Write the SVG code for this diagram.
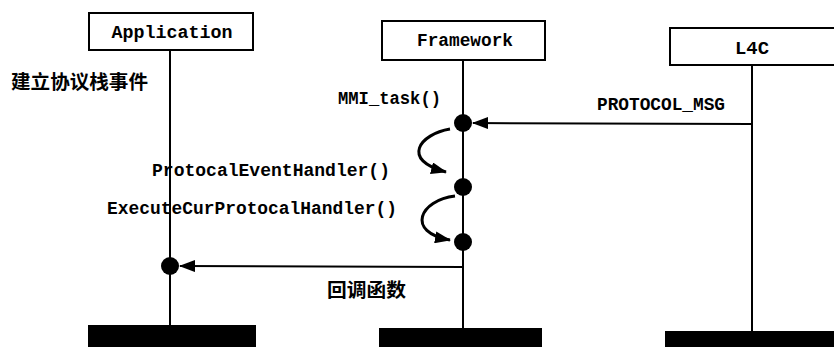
<svg xmlns="http://www.w3.org/2000/svg" width="834" height="347" viewBox="0 0 834 347">
<style>
.box{fill:#fff;stroke:#000;stroke-width:2}
.life{stroke:#000;stroke-width:2;fill:none}
.bar{fill:#000}
.dot{fill:#000}
.t{font-family:"Liberation Mono","DejaVu Sans Mono",monospace;font-weight:bold;font-size:19px;fill:#000}
.cn{font-family:"Noto Sans CJK SC","Noto Sans",sans-serif;font-weight:bold;font-size:19px;fill:#000}
.msg{stroke:#000;stroke-width:2;fill:none}
.self{stroke:#000;stroke-width:3;fill:none}
</style>
<defs>
<marker id="ah" markerWidth="16" markerHeight="12" refX="15" refY="6" orient="auto" markerUnits="userSpaceOnUse">
<path d="M0,0 L16,6 L0,12 Z" fill="#000"/>
</marker>
</defs>
<rect width="834" height="347" fill="#fff"/>
<g id="application">
<line class="life" x1="170" y1="50" x2="170" y2="326"/>
<rect class="box" x="89" y="13" width="164" height="37"/>
<text class="t" x="172" y="38" text-anchor="middle" textLength="121" lengthAdjust="spacingAndGlyphs">Application</text>
<rect class="bar" x="88" y="325" width="168" height="22"/>
<circle class="dot" cx="170" cy="266" r="9"/>
</g>
<g id="framework">
<line class="life" x1="463" y1="60" x2="463" y2="330"/>
<rect class="box" x="382" y="21" width="163" height="39"/>
<text class="t" x="465" y="46" text-anchor="middle" textLength="96" lengthAdjust="spacingAndGlyphs">Framework</text>
<rect class="bar" x="379" y="328" width="163" height="19"/>
<circle class="dot" cx="463" cy="123" r="9"/>
<circle class="dot" cx="463" cy="187" r="9"/>
<circle class="dot" cx="463" cy="242" r="9"/>
</g>
<g id="l4c">
<line class="life" x1="752" y1="65" x2="752" y2="331"/>
<rect class="box" x="670" y="28" width="170" height="37"/>
<text class="t" x="752" y="54" text-anchor="middle" textLength="34" lengthAdjust="spacingAndGlyphs">L4C</text>
<rect class="bar" x="665" y="331" width="169" height="16"/>
</g>
<g id="connectors">
<line class="msg" x1="751" y1="124" x2="473" y2="123" marker-end="url(#ah)"/>
<path class="self" d="M450,129 C420,134 400,160 446,172" marker-end="url(#ah)"/>
<path class="self" d="M455,196 C420,200 405,232 450,240" marker-end="url(#ah)"/>
<line class="msg" x1="463" y1="267" x2="180" y2="266" marker-end="url(#ah)"/>
</g>
<g id="labels">
<text class="cn" x="11" y="89" textLength="137" lengthAdjust="spacingAndGlyphs">建立协议栈事件</text>
<text class="t" x="338" y="104" textLength="103" lengthAdjust="spacingAndGlyphs">MMI_task()</text>
<text class="t" x="597" y="110" textLength="128" lengthAdjust="spacingAndGlyphs">PROTOCOL_MSG</text>
<text class="t" x="152" y="176" textLength="238" lengthAdjust="spacingAndGlyphs">ProtocalEventHandler()</text>
<text class="t" x="107" y="214" textLength="290" lengthAdjust="spacingAndGlyphs">ExecuteCurProtocalHandler()</text>
<text class="cn" x="327" y="297" textLength="79" lengthAdjust="spacingAndGlyphs">回调函数</text>
</g>
</svg>
